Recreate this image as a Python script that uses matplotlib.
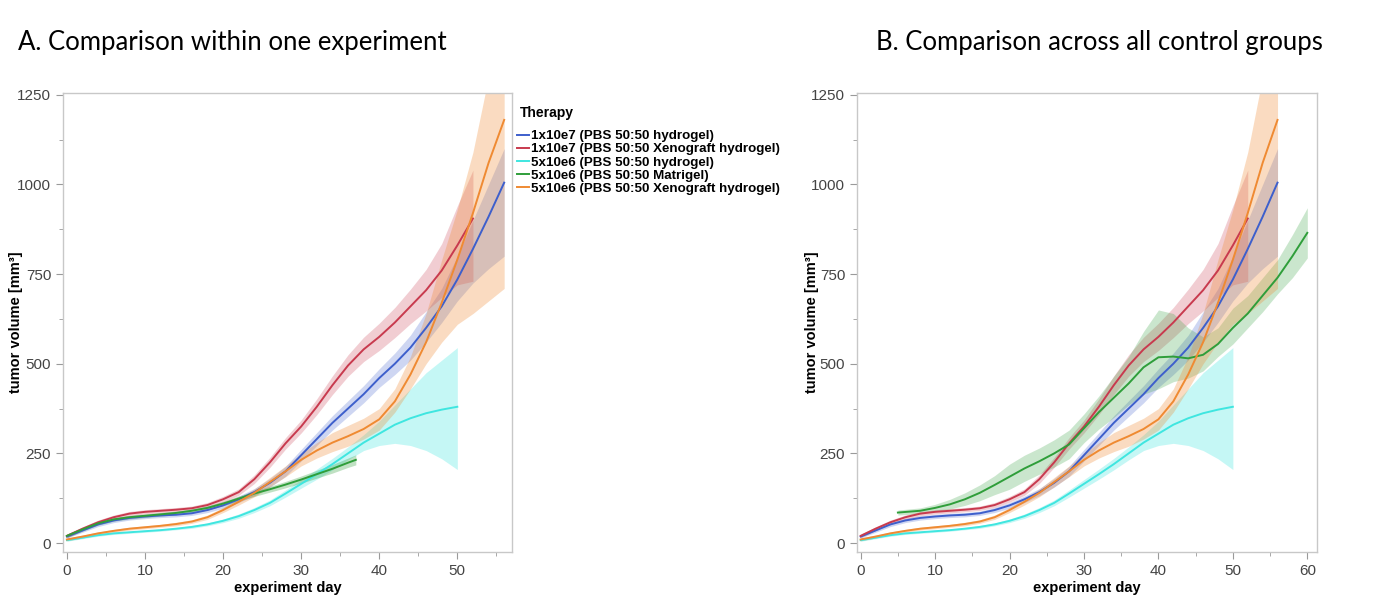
import numpy as np
import matplotlib
matplotlib.use("Agg")
import matplotlib.pyplot as plt
from matplotlib.ticker import MultipleLocator

plt.rcParams['font.family'] = ['Liberation Sans', 'DejaVu Sans']

# ---- data (tumor volume, mm3) ----
days_blue = [0, 2, 4, 6, 8, 10, 12, 14, 16, 18, 20, 22, 24, 26, 28, 30, 32, 34, 36, 38, 40, 42, 44, 46, 48, 50, 52, 54, 56]
blue_val = [18, 35, 52, 63, 70, 74, 77, 79, 83, 92, 105, 122, 142, 168, 200, 245, 290, 335, 375, 415, 460, 500, 545, 600, 660, 735, 820, 910, 1005]
blue_lo = [14, 30, 46, 57, 64, 68, 71, 73, 77, 85, 97, 113, 132, 156, 186, 229, 272, 315, 353, 391, 434, 470, 510, 560, 615, 675, 725, 765, 800]
blue_hi = [22, 40, 58, 69, 76, 80, 83, 85, 89, 99, 113, 131, 152, 180, 214, 261, 308, 355, 397, 439, 486, 530, 580, 645, 710, 800, 900, 1000, 1100]

days_red = [0, 2, 4, 6, 8, 10, 12, 14, 16, 18, 20, 22, 24, 26, 28, 30, 32, 34, 36, 38, 40, 42, 44, 46, 48, 50, 52]
red_val = [20, 40, 58, 72, 82, 87, 90, 93, 97, 106, 122, 142, 178, 225, 278, 325, 380, 440, 495, 540, 575, 615, 660, 705, 760, 830, 905]
red_lo = [15, 35, 52, 66, 76, 81, 84, 87, 91, 99, 114, 133, 166, 211, 262, 307, 358, 414, 465, 506, 537, 573, 612, 647, 685, 720, 730]
red_hi = [25, 45, 64, 78, 88, 93, 96, 99, 103, 113, 130, 151, 190, 239, 294, 343, 402, 466, 525, 574, 613, 657, 708, 763, 835, 940, 1040]

days_cyan = [0, 2, 4, 6, 8, 10, 12, 14, 16, 18, 20, 22, 24, 26, 28, 30, 32, 34, 36, 38, 40, 42, 44, 46, 48, 50]
cyan_val = [8, 15, 22, 27, 30, 33, 36, 40, 45, 52, 62, 75, 92, 112, 138, 165, 192, 220, 250, 280, 305, 330, 348, 362, 372, 380]
cyan_lo = [5, 12, 19, 24, 27, 30, 33, 37, 41, 48, 57, 69, 85, 104, 128, 153, 178, 204, 232, 258, 272, 278, 272, 258, 235, 205]
cyan_hi = [11, 18, 25, 30, 33, 36, 39, 43, 49, 56, 67, 81, 99, 120, 148, 177, 206, 236, 268, 302, 340, 385, 430, 475, 510, 545]

days_green_a = [0, 2, 4, 6, 8, 10, 12, 14, 16, 18, 20, 22, 24, 26, 28, 30, 32, 34, 36, 37]
green_a_val = [20, 38, 55, 66, 72, 76, 80, 84, 90, 98, 110, 124, 138, 150, 163, 177, 192, 207, 224, 232]
green_a_lo = [15, 33, 50, 61, 67, 71, 75, 79, 85, 92, 104, 117, 130, 142, 154, 167, 181, 195, 211, 218]
green_a_hi = [25, 43, 60, 71, 77, 81, 85, 89, 95, 104, 116, 131, 146, 158, 172, 187, 203, 219, 237, 246]

days_orange = [0, 2, 4, 6, 8, 10, 12, 14, 16, 18, 20, 22, 24, 26, 28, 30, 32, 34, 36, 38, 40, 42, 44, 46, 48, 50, 52, 54, 56]
orange_val = [10, 18, 27, 34, 40, 44, 48, 53, 60, 72, 92, 115, 140, 170, 200, 232, 258, 280, 298, 318, 345, 395, 470, 560, 670, 790, 920, 1060, 1180]
orange_lo = [6, 14, 23, 30, 36, 40, 44, 48, 55, 66, 85, 106, 129, 157, 185, 215, 237, 255, 270, 290, 315, 365, 430, 500, 560, 610, 640, 675, 710]
orange_hi = [14, 22, 31, 38, 44, 48, 52, 58, 65, 78, 99, 124, 151, 183, 215, 249, 280, 308, 328, 348, 375, 430, 520, 640, 790, 930, 1090, 1300, 1600]

days_green_b = [5, 8, 10, 12, 14, 16, 18, 20, 22, 24, 26, 28, 30, 32, 34, 36, 38, 40, 42, 44, 46, 48, 50, 52, 54, 56, 58, 60]
green_b_val = [85, 90, 98, 108, 122, 140, 162, 185, 208, 228, 250, 275, 320, 365, 405, 445, 490, 518, 520, 515, 525, 555, 600, 640, 690, 740, 800, 865]
green_b_lo = [78, 82, 88, 95, 105, 118, 135, 150, 172, 192, 212, 235, 280, 318, 350, 385, 415, 430, 450, 460, 480, 520, 555, 600, 645, 695, 740, 795]
green_b_hi = [92, 98, 108, 122, 140, 162, 188, 220, 245, 265, 288, 315, 360, 410, 465, 520, 590, 650, 640, 600, 575, 600, 655, 690, 740, 790, 860, 935]

labels = ['1x10e7 (PBS 50:50 hydrogel)',
          '1x10e7 (PBS 50:50 Xenograft hydrogel)',
          '5x10e6 (PBS 50:50 hydrogel)',
          '5x10e6 (PBS 50:50 Matrigel)',
          '5x10e6 (PBS 50:50 Xenograft hydrogel)']

c_blue = '#3d5fcc'
c_red = '#c83a4e'
c_cyan = '#3fe6e0'
c_green = '#2f9e3a'
c_orange = '#ef8a32'

series_a = [(days_blue, blue_val, blue_lo, blue_hi, c_blue, 0.25),
            (days_red, red_val, red_lo, red_hi, c_red, 0.25),
            (days_cyan, cyan_val, cyan_lo, cyan_hi, c_cyan, 0.3),
            (days_green_a, green_a_val, green_a_lo, green_a_hi, c_green, 0.3),
            (days_orange, orange_val, orange_lo, orange_hi, c_orange, 0.3)]

series_b = list(series_a)
series_b[3] = (days_green_b, green_b_val, green_b_lo, green_b_hi, c_green, 0.25)

fig = plt.figure(figsize=(14, 6.13), dpi=100)
ax1 = fig.add_axes([0.045, 0.0995, 0.3207, 0.7488])
ax2 = fig.add_axes([0.6121, 0.0995, 0.3286, 0.7488])


def draw_panel(ax, series, xmax, xticks, ylab_x):
    handles = []
    for d, v, lo, hi, col, a in series:
        ax.fill_between(d, lo, hi, color=col, alpha=a, lw=0)
        h, = ax.plot(d, v, '-', color=col, lw=1.4)
        handles.append(h)
    ax.set_xlim(-0.5, xmax)
    ax.set_ylim(-25, 1255)
    ax.set_xticks(xticks)
    ax.set_yticks([0, 250, 500, 750, 1000, 1250])
    ax.xaxis.set_minor_locator(MultipleLocator(5))
    ax.yaxis.set_minor_locator(MultipleLocator(125))
    for s in ax.spines.values():
        s.set_color('#c8c8c8')
        s.set_linewidth(1.0)
    ax.tick_params(axis='both', which='major', direction='out', length=5,
                   color='#9a9a9a', labelcolor='#444444', labelsize=11)
    ax.tick_params(axis='both', which='minor', direction='out', length=3, color='#9a9a9a')
    ax.set_xlabel('experiment day', fontsize=10.5, fontweight='bold', labelpad=2)
    ax.set_ylabel('tumor volume [mm³]', fontsize=10.5, fontweight='bold')
    ax.yaxis.set_label_coords(ylab_x, 0.5)
    return handles


handles = draw_panel(ax1, series_a, 57, [0, 10, 20, 30, 40, 50], -0.09)
draw_panel(ax2, series_b, 61.3, [0, 10, 20, 30, 40, 50, 60], -0.082)

fig.text(0.371, 1 - 113 / 613, 'Therapy', fontsize=10, fontweight='bold', va='center', ha='left')
fig.legend(handles, labels, loc='upper left', bbox_to_anchor=(0.369, 1 - 130 / 613),
           frameon=False, prop={'size': 9.6, 'weight': 'bold'}, handlelength=0.9,
           handletextpad=0.15, labelspacing=0.06, borderaxespad=0, borderpad=0)

fig.text(0.013, 0.93, 'A. Comparison within one experiment', fontsize=18.5,
         family=['Lato', 'DejaVu Sans'], va='center', ha='left')
fig.text(0.626, 0.93, 'B. Comparison across all control groups', fontsize=18.5,
         family=['Lato', 'DejaVu Sans'], va='center', ha='left')

fig.savefig('out.png', dpi=100)
